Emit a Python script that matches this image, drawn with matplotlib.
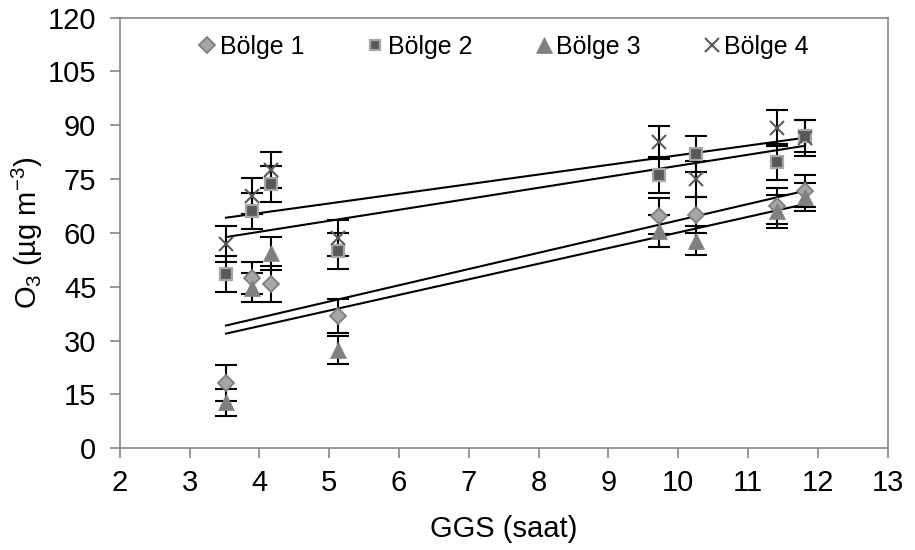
import numpy as np
import matplotlib
matplotlib.use("Agg")
import matplotlib.pyplot as plt

plt.rcParams["font.family"] = ["Liberation Sans", "DejaVu Sans"]
plt.rcParams["mathtext.default"] = "regular"

# =========================
# DATA
# =========================
ggs = [3.52, 3.89, 4.17, 5.12, 9.73, 10.26, 11.41, 11.81]

bolge1 = [18.3, 47.5, 45.7, 36.9, 64.7, 65.0, 67.5, 71.6]
bolge2 = [48.5, 66.0, 73.6, 55.0, 76.2, 82.0, 79.7, 87.1]
bolge3 = [12.8, 44.7, 54.3, 27.4, 60.6, 57.8, 66.0, 70.0]
bolge4 = [56.9, 70.3, 77.6, 58.5, 85.2, 75.1, 89.2, 86.4]

err1 = [5.0, 4.5, 5.0, 4.7, 5.0, 5.0, 5.0, 4.5]
err2 = [5.0, 5.0, 5.0, 5.0, 5.0, 5.0, 5.0, 4.5]
err3 = [3.8, 4.0, 4.5, 4.0, 4.5, 4.0, 4.5, 4.0]
err4 = [5.0, 5.0, 5.0, 5.0, 4.5, 5.0, 5.0, 5.0]

labels = ["Bölge 1", "Bölge 2", "Bölge 3", "Bölge 4"]

# =========================
# STYLES
# =========================
styles = [
    dict(marker="D", ms=8.5, mfc="#a6a6a6", mec="#7f7f7f", mew=1.3),
    dict(marker="s", ms=8.0, mfc="#595959", mec="#a6a6a6", mew=1.6),
    dict(marker="^", ms=12, mfc="#808080", mec="#808080", mew=0.5),
    dict(marker="x", ms=10.0, mfc="#595959", mec="#595959", mew=1.5),
]

fig = plt.figure(figsize=(9.15, 5.5), dpi=100)
ax = fig.add_axes([0.131, 0.185, 0.839, 0.783])

series = [bolge1, bolge2, bolge3, bolge4]
errs = [err1, err2, err3, err4]
x = np.array(ggs)

handles = []
for ys, es, st, lab in zip(series, errs, styles, labels):
    ax.errorbar(x, ys, yerr=es, fmt="none", ecolor="black", elinewidth=1.5,
                capsize=8, capthick=1.5, zorder=2)
    h, = ax.plot(x, ys, linestyle="none", label=lab, zorder=3, **st)
    handles.append(h)

# linear trend lines
for ys in series:
    k, b = np.polyfit(x, ys, 1)
    xx = np.array([x.min(), x.max()])
    ax.plot(xx, k * xx + b, color="black", lw=1.5, zorder=2.5)

ax.set_xlim(2, 13)
ax.set_ylim(0, 120)
ax.set_xticks(range(2, 14))
ax.set_yticks(range(0, 121, 15))
ax.tick_params(labelsize=21, length=7, width=1.2, color="#868686", direction="out")
ax.tick_params(axis="x", pad=8)
ax.tick_params(axis="y", pad=10)
for sp in ax.spines.values():
    sp.set_color("#868686")
    sp.set_linewidth(1.2)

ax.set_xlabel("GGS (saat)", fontsize=21, labelpad=13)
ax.set_ylabel("O$_3$ (µg m$^{-3}$)", fontsize=21, labelpad=2)

ax.legend(handles=handles, loc="upper center", ncol=4, frameon=False,
          fontsize=18, handlelength=0.7, handletextpad=0.15, columnspacing=2.5,
          borderaxespad=0.3, markerscale=0.95, bbox_to_anchor=(0.5, 1.0))

plt.savefig("out.png", dpi=100)
